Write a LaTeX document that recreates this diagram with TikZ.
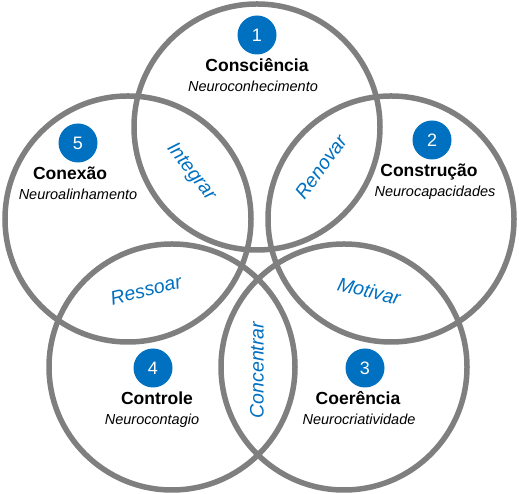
\documentclass[tikz,border=0pt]{standalone}
\usepackage{fontspec}
\setmainfont{Liberation Sans}
\usepackage{tikz}
\usetikzlibrary{positioning}
\definecolor{ringgray}{HTML}{7F7F7F}
\definecolor{stepblue}{HTML}{0070C0}

\begin{document}
\begin{tikzpicture}[x=1pt, y=1pt,
    ring/.style={draw=ringgray, line width=5.5pt, circle, minimum size=246pt, inner sep=0pt},
    num/.style={circle, fill=stepblue, text=white, minimum size=39pt, inner sep=0pt, font=\fontsize{18}{18}\selectfont},
    headline/.style={inner sep=0pt, text height=13pt, text depth=3pt, font=\fontsize{17.5}{20}\selectfont\bfseries},
    sub/.style={inner sep=0pt, text height=11pt, text depth=3pt, font=\fontsize{14.5}{16}\selectfont\itshape},
    link/.style={text=stepblue, inner sep=0pt, font=\fontsize{19.5}{22}\selectfont\itshape}
]
\useasboundingbox (0,0) rectangle (519,494);

% Rings
\node[ring] (ring1) at (257,367) {};
\node[ring] (ring2) at (391,275) {};
\node[ring] (ring3) at (344,127) {};
\node[ring] (ring4) at (172,127) {};
\node[ring] (ring5) at (128,275) {};

% Consciencia
\node[num] (n1) at (257,459) {1};
\node[headline, below=3.5pt of n1] (h1) {Consciência};
\node[sub, below=6pt of h1, xshift=-4pt] (s1) {Neuroconhecimento};

% Construcao
\node[num] (n2) at (432,354) {2};
\node[headline, below=3.5pt of n2, xshift=-3pt] (h2) {Construção};
\node[sub, below=6pt of h2, xshift=6pt] (s2) {Neurocapacidades};

% Coerencia
\node[num] (n3) at (365,126) {3};
\node[headline, below=3.5pt of n3, xshift=-7pt] (h3) {Coerência};
\node[sub, below=6pt of h3, xshift=1pt] (s3) {Neurocriatividade};

% Controle
\node[num] (n4) at (153,126) {4};
\node[headline, below=3.5pt of n4, xshift=4pt] (h4) {Controle};
\node[sub, below=6pt of h4, xshift=-5pt] (s4) {Neurocontagio};

% Conexao
\node[num] (n5) at (78,351) {5};
\node[headline, below=3.5pt of n5, xshift=-8pt] (h5) {Conexão};
\node[sub, below=6pt of h5, xshift=8pt] (s5) {Neuroalinhamento};

% Overlaps
\node[link, rotate=-52] (integrar) at (191,322) {Integrar};
\node[link, rotate=54] (renovar) at (321,327) {Renovar};
\node[link, rotate=14] (ressoar) at (146,204) {Ressoar};
\node[link, rotate=-14] (motivar) at (369,203) {Motivar};
\node[link, rotate=90] (concentrar) at (257,124) {Concentrar};

\end{tikzpicture}
\end{document}
